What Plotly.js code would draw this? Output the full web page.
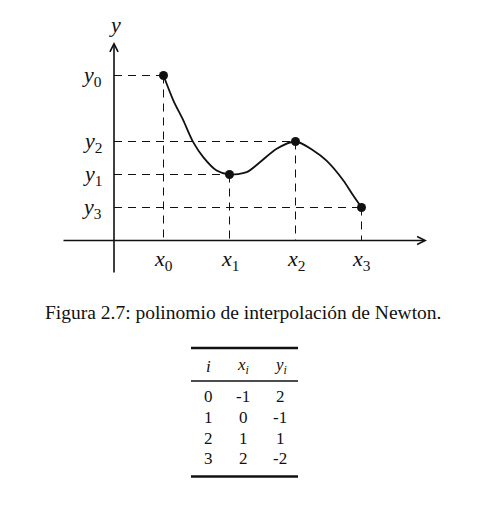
<!DOCTYPE html>
<html>
<head>
<meta charset="utf-8">
<script src="https://cdn.plot.ly/plotly-3.0.1.min.js"></script>
<style>
html,body{margin:0;padding:0;background:#fff;}
#chart{width:498px;height:508px;}
</style>
</head>
<body>
<div id="chart"></div>
<script>
// ---- data (schematic units) ----
const nodeX = [1.5, 3.5, 5.5, 7.5];
const nodeY = [5, 2, 3, 1];
const xLabels = ['<i>x</i><sub>0</sub>', '<i>x</i><sub>1</sub>', '<i>x</i><sub>2</sub>', '<i>x</i><sub>3</sub>'];
const yLabels = ['<i>y</i><sub>0</sub>', '<i>y</i><sub>1</sub>', '<i>y</i><sub>2</sub>', '<i>y</i><sub>3</sub>'];
const curveX = [1.5, 1.8, 2.1, 2.4, 2.71, 3.11, 3.5, 4.02, 4.42, 4.93, 5.5, 6.04, 6.44, 6.95, 7.25, 7.5];
const curveY = [5.0, 4.24, 3.64, 2.98, 2.52, 2.12, 2.0, 2.07, 2.37, 2.78, 3.0, 2.73, 2.42, 1.82, 1.36, 1.0];
const axisLabelY = '<i>y</i>';
const caption = 'Figura 2.7: polinomio de interpolación de Newton.';
const tableHeader = ['<i>i</i>', '<i>x</i><sub><i>i</i></sub>', '<i>y</i><sub><i>i</i></sub>'];
const tableI = [0, 1, 2, 3];
const tableXi = [-1, 0, 1, 2];
const tableYi = [2, -1, 1, -2];

// ---- geometry ----
const W = 498, H = 508;
const mL = 55, mR = 60, mT = 35, mB = 228;
const plotW = W - mL - mR, plotH = H - mT - mB;
const unit = 33, ox = 114, oy = 240.5;
const xRange = [(mL - ox) / unit, (W - mR - ox) / unit];
const yRange = [-(H - mB - oy) / unit, (oy - mT) / unit];
const px2x = p => (p - mL) / plotW;
const py2y = p => (H - mB - p) / plotH;
const FONT = 'Liberation Serif';
const INK = '#111';

// dashed guide lines built from node arrays
const gx = [], gy = [];
nodeX.forEach((x, i) => {
  gx.push(0, x, null, x, x, null);
  gy.push(nodeY[i], nodeY[i], null, nodeY[i], 0, null);
});

const traces = [
  {x: gx, y: gy, mode: 'lines', line: {color: INK, width: 1, dash: '8px,6px'}, hoverinfo: 'skip', showlegend: false},
  {x: curveX, y: curveY, mode: 'lines', line: {color: INK, width: 1.8, shape: 'spline', smoothing: 0.8}, hoverinfo: 'skip', showlegend: false},
  {x: nodeX, y: nodeY, mode: 'markers', marker: {color: INK, size: 9}, hoverinfo: 'skip', showlegend: false}
];

const ann = [];
// axis arrows
ann.push({xref: 'x', yref: 'y', axref: 'x', ayref: 'y', x: (427 - ox) / unit, y: 0, ax: (62 - ox) / unit, ay: 0,
  text: '', showarrow: true, arrowhead: 5, arrowsize: 1, arrowwidth: 1.6, arrowcolor: INK, standoff: 0, startstandoff: 0});
ann.push({xref: 'x', yref: 'y', axref: 'x', ayref: 'y', x: 0, y: (oy - 42) / unit, ax: 0, ay: -(274 - oy) / unit,
  text: '', showarrow: true, arrowhead: 5, arrowsize: 1, arrowwidth: 1.6, arrowcolor: INK, standoff: 0, startstandoff: 0});
// axis label y
ann.push({xref: 'paper', yref: 'paper', x: px2x(115), y: py2y(25), text: axisLabelY, showarrow: false,
  font: {family: FONT, size: 22, color: INK}, xanchor: 'center', yanchor: 'middle'});
// node labels
nodeY.forEach((y, i) => ann.push({xref: 'paper', yref: 'y', x: px2x(104), y: y, text: yLabels[i], showarrow: false,
  font: {family: FONT, size: 22, color: INK}, xanchor: 'right', yanchor: 'middle'}));
nodeX.forEach((x, i) => ann.push({xref: 'x', yref: 'paper', x: x, y: py2y(260), text: xLabels[i], showarrow: false,
  font: {family: FONT, size: 22, color: INK}, xanchor: 'center', yanchor: 'middle'}));
// caption
ann.push({xref: 'paper', yref: 'paper', x: px2x(243), y: py2y(312), text: caption, showarrow: false,
  font: {family: FONT, size: 19.5, color: INK}, xanchor: 'center', yanchor: 'middle'});
// table
const colPx = [208, 243, 280];
const rowPx = [396, 417, 438, 459];
tableHeader.forEach((t, c) => ann.push({xref: 'paper', yref: 'paper', x: px2x(colPx[c]), y: py2y(366), text: t, showarrow: false,
  font: {family: FONT, size: 17, color: INK}, xanchor: 'center', yanchor: 'middle'}));
[tableI, tableXi, tableYi].forEach((col, c) => col.forEach((v, r) => ann.push({xref: 'paper', yref: 'paper',
  x: px2x(colPx[c]), y: py2y(rowPx[r]), text: String(v), showarrow: false,
  font: {family: FONT, size: 17, color: INK}, xanchor: 'center', yanchor: 'middle'})));

const rule = (py, w) => ({type: 'line', xref: 'paper', yref: 'paper', x0: px2x(191), x1: px2x(298), y0: py2y(py), y1: py2y(py),
  line: {color: INK, width: w}});
const shapes = [rule(348, 2.6), rule(381, 1.4), rule(476.5, 2.6)];

const layout = {
  width: W, height: H,
  margin: {l: mL, r: mR, t: mT, b: mB, pad: 0},
  paper_bgcolor: '#fff', plot_bgcolor: '#fff',
  font: {family: FONT},
  xaxis: {range: xRange, visible: false, fixedrange: true},
  yaxis: {range: yRange, visible: false, fixedrange: true},
  annotations: ann, shapes: shapes, showlegend: false
};
Plotly.newPlot('chart', traces, layout, {displayModeBar: false, staticPlot: true});
</script>
</body>
</html>
